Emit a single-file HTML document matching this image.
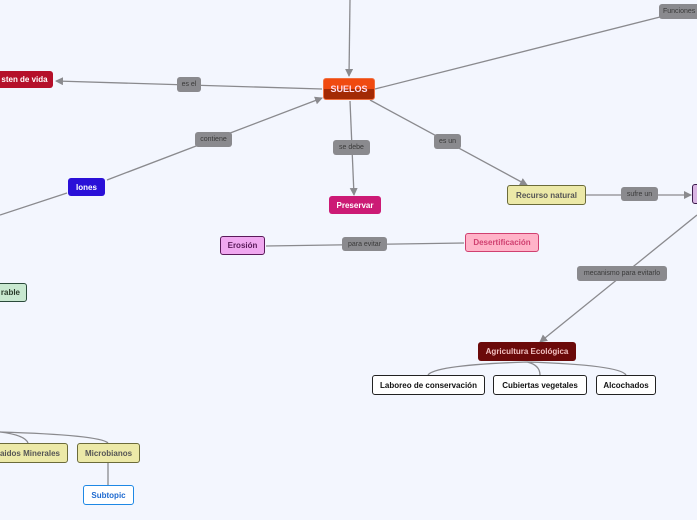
<!DOCTYPE html>
<html><head><meta charset="utf-8"><style>
body{margin:0;width:697px;height:520px;background:#f3f6fe;position:relative;overflow:hidden;font-family:"Liberation Sans",sans-serif}
.n{position:absolute;box-sizing:border-box;border-radius:3px;font-size:8px;font-weight:bold;display:flex;align-items:center;justify-content:center;white-space:nowrap}
.l{position:absolute;box-sizing:border-box;border-radius:3px;background:#8a8a8e;color:#3a3a3a;font-size:7px;display:flex;align-items:center;justify-content:center;white-space:nowrap}
svg{position:absolute;left:0;top:0}
</style></head><body>
<svg width="697" height="520">
<defs><marker id="a" markerWidth="8" markerHeight="8" refX="7" refY="4" orient="auto" markerUnits="userSpaceOnUse"><path d="M0,0 L8,4 L0,8 z" fill="#8a8a8e"/></marker></defs>
<g stroke="#8a8a8e" stroke-width="1.3" fill="none">
<line x1="350" y1="0" x2="349" y2="76" marker-end="url(#a)"/>
<line x1="322" y1="89" x2="56" y2="81" marker-end="url(#a)"/>
<line x1="375" y1="89" x2="660" y2="17"/>
<line x1="107" y1="180" x2="322" y2="98" marker-end="url(#a)"/>
<line x1="67" y1="193" x2="0" y2="215"/>
<line x1="350" y1="101" x2="354" y2="195" marker-end="url(#a)"/>
<line x1="370" y1="100" x2="527" y2="185" marker-end="url(#a)"/>
<line x1="586" y1="195" x2="691" y2="195" marker-end="url(#a)"/>
<line x1="266" y1="246" x2="464" y2="243"/>
<line x1="697" y1="215" x2="540" y2="342" marker-end="url(#a)"/>
<path d="M527,362 Q435,365 428,375 M527,362 Q540,365 540,375 M527,362 Q620,365 626,375"/>
<path d="M0,432 Q25,435 28,443 M0,432 Q100,435 108,443"/>
<line x1="108" y1="463" x2="108" y2="485"/>
</g></svg>
<div class="n" style="left:323px;top:78px;width:52px;height:22px;background:linear-gradient(#f04a10 50%,#a32a05 50%);color:#fde;font-size:9px;border:1px solid #f07040">SUELOS</div>
<div class="n" style="left:-4px;top:71px;width:57px;height:17px;background:#b5102a;color:#fff">sten de vida</div>
<div class="n" style="left:68px;top:178px;width:37px;height:18px;background:#2a10d8;color:#fff">Iones</div>
<div class="n" style="left:329px;top:196px;width:52px;height:18px;background:#cc1a75;color:#fff">Preservar</div>
<div class="n" style="left:507px;top:185px;width:79px;height:20px;background:#ece9a8;border:1px solid #6b6b3a;color:#555">Recurso natural</div>
<div class="n" style="left:692px;top:184px;width:12px;height:20px;background:#d8b4e2;border:1px solid #3a1a4a"></div>
<div class="n" style="left:220px;top:236px;width:45px;height:19px;background:#f0a8f0;border:1px solid #5a1a5a;color:#5a1a5a">Erosión</div>
<div class="n" style="left:465px;top:233px;width:74px;height:19px;background:#ffb3c8;border:1px solid #d04070;color:#d04070">Desertificación</div>
<div class="n" style="left:478px;top:342px;width:98px;height:19px;background:#6b0a0a;color:#f0c0c0">Agricultura Ecológica</div>
<div class="n" style="left:372px;top:375px;width:113px;height:20px;background:#fff;border:1px solid #222;color:#111">Laboreo de conservación</div>
<div class="n" style="left:493px;top:375px;width:94px;height:20px;background:#fff;border:1px solid #222;color:#111">Cubiertas vegetales</div>
<div class="n" style="left:596px;top:375px;width:60px;height:20px;background:#fff;border:1px solid #222;color:#111">Alcochados</div>
<div class="n" style="left:-20px;top:283px;width:47px;height:19px;background:#c8e8d0;border:1px solid #2a4a3a;color:#2a3a2a;justify-content:flex-end;padding-right:6px">rable</div>
<div class="n" style="left:-20px;top:443px;width:88px;height:20px;background:#ece9a8;border:1px solid #6b6b3a;color:#555;justify-content:flex-end;padding-right:7px">raidos Minerales</div>
<div class="n" style="left:77px;top:443px;width:63px;height:20px;background:#ece9a8;border:1px solid #6b6b3a;color:#555">Microbianos</div>
<div class="n" style="left:83px;top:485px;width:51px;height:20px;background:#fff;border:1px solid #1e88e5;color:#1e6ad0">Subtopic</div>
<div class="l" style="left:177px;top:77px;width:24px;height:15px">es el</div>
<div class="l" style="left:659px;top:4px;width:45px;height:15px;justify-content:flex-start;padding-left:4px">Funciones</div>
<div class="l" style="left:195px;top:132px;width:37px;height:15px">contiene</div>
<div class="l" style="left:333px;top:140px;width:37px;height:15px">se debe</div>
<div class="l" style="left:434px;top:134px;width:27px;height:15px">es un</div>
<div class="l" style="left:621px;top:187px;width:37px;height:14px">sufre un</div>
<div class="l" style="left:342px;top:237px;width:45px;height:14px">para evitar</div>
<div class="l" style="left:577px;top:266px;width:90px;height:15px">mecanismo para evitarlo</div>
</body></html>
